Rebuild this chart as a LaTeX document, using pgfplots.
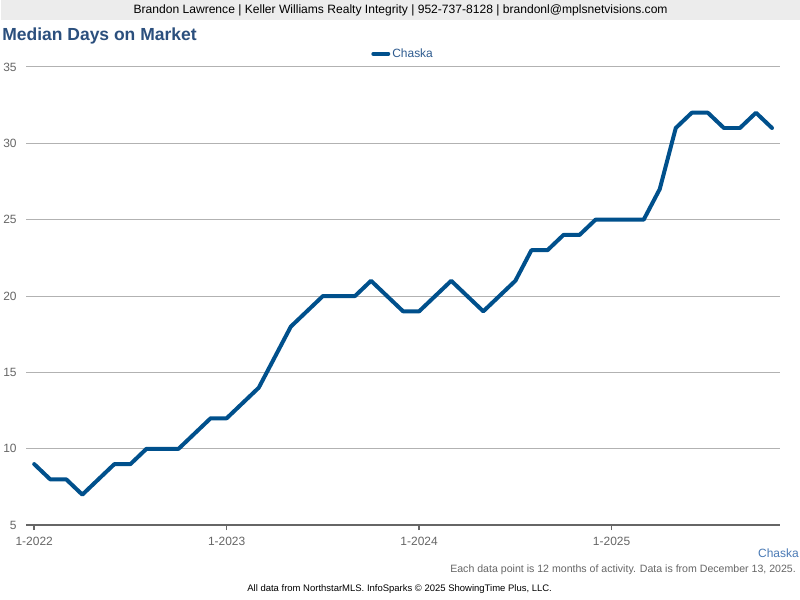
\documentclass[border=0pt]{standalone}
\usepackage{fontspec}
\setmainfont{Liberation Sans}
\usepackage{pgfplots}
\pgfplotsset{compat=1.18}
\definecolor{serblue}{RGB}{0,80,140}
\definecolor{titleblue}{RGB}{43,79,125}
\definecolor{legblue}{RGB}{46,91,143}
\definecolor{chaskablue}{RGB}{74,122,181}
\definecolor{headgray}{RGB}{236,236,236}
\definecolor{tickgray}{RGB}{102,102,102}
\definecolor{gridgray}{RGB}{178,178,178}
\pgfplotstableread{
m v
0 9
1 8
2 8
3 7
4 8
5 9
6 9
7 10
8 10
9 10
10 11
11 12
12 12
13 13
14 14
15 16
16 18
17 19
18 20
19 20
20 20
21 21
22 20
23 19
24 19
25 20
26 21
27 20
28 19
29 20
30 21
31 23
32 23
33 24
34 24
35 25
36 25
37 25
38 25
39 27
40 31
41 32
42 32
43 31
44 31
45 32
46 31
}\chaska
\begin{document}
\begin{tikzpicture}[x=1pt,y=1pt]
\fill[white] (0,0) rectangle (800,600);
\fill[headgray] (0,580) rectangle (800,600);
\node[anchor=center,font=\fontsize{12.1}{14}\selectfont] at (400,589.5) {Brandon Lawrence | Keller Williams Realty Integrity | 952-737-8128 | brandonl@mplsnetvisions.com};
\node[anchor=west,inner sep=0pt,font=\bfseries\fontsize{17.5}{20}\selectfont,text=titleblue] at (1,564) {Median Days on Market};
\begin{axis}[
  at={(25pt,74pt)}, anchor=south west,
  scale only axis, width=755pt, height=459pt,
  xmin=-0.5, xmax=46.5, ymin=5, ymax=35,
  ytick={5,10,...,35},
  xtick={0,12,24,36},
  xticklabels={1-2022,1-2023,1-2024,1-2025},
  /pgf/number format/assume math mode=true,
  separate axis lines,
  axis x line*=bottom, axis y line*=left,
  x axis line style={draw=tickgray,line width=2.5pt,-},
  y axis line style={draw=none},
  ymajorgrids, grid style={draw=gridgray,line width=0.8pt},
  tick align=outside,
  major tick length=5pt,
  xtick style={draw=tickgray,line width=1.5pt},
  ytick style={draw=none},
  ticklabel style={font=\fontsize{12}{14}\selectfont,text=tickgray},
  yticklabel style={anchor=east,xshift=-1pt},
  xticklabel style={yshift=-3pt},
  legend style={at={(axis description cs:0.5,1)},anchor=center,yshift=13pt,draw=none,fill=none,font=\fontsize{12}{14}\selectfont,text=legblue},
  legend image code/.code={\draw[line width=4pt,serblue] (0pt,0pt) -- (15pt,0pt);},
  clip=false,
]
\addplot[serblue,line width=4pt,line join=round,line cap=round] table[x=m,y=v]{\chaska};
\addlegendentry{Chaska}
\end{axis}
\node[anchor=east,inner sep=0pt,font=\fontsize{12}{14}\selectfont,text=chaskablue] at (799,46) {Chaska};
\node[anchor=east,inner sep=0pt,font=\fontsize{10.6}{13}\selectfont,text=tickgray] at (796,29) {Each data point is 12 months of activity. Data is from December 13, 2025.};
\node[anchor=center,inner sep=0pt,font=\fontsize{9.5}{11}\selectfont] at (399,10) {All data from NorthstarMLS. InfoSparks © 2025 ShowingTime Plus, LLC.};
\end{tikzpicture}
\end{document}
